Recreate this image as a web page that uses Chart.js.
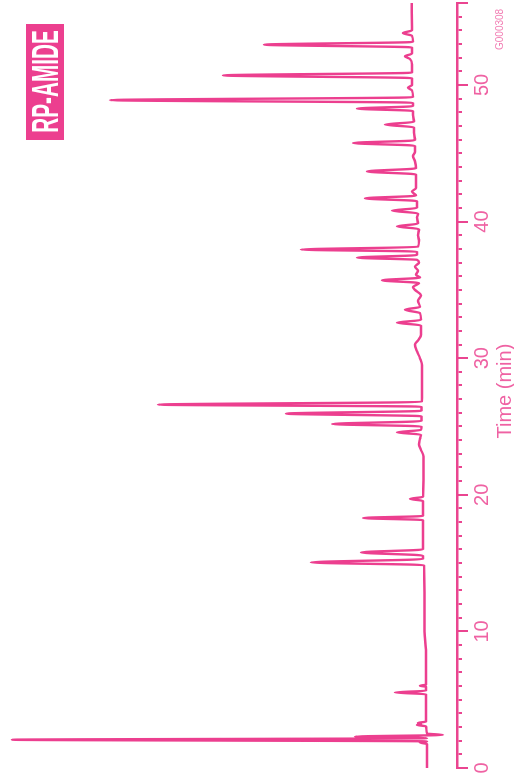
<!DOCTYPE html>
<html>
<head>
<meta charset="utf-8">
<script src="https://cdn.jsdelivr.net/npm/chart.js@4/dist/chart.umd.min.js"></script>
<style>
  html, body { margin: 0; padding: 0; background: #fff; overflow: hidden; }
  #stage { position: relative; width: 514px; height: 776px; overflow: hidden; }
  /* the chart is laid out landscape and turned a quarter-turn so time runs upward */
  #frame { position: absolute; left: -131px; top: 131px; width: 776px; height: 514px;
           transform: rotate(-90deg); transform-origin: 50% 50%; }
  #frame canvas { position: absolute; left: 0; top: 0; }
  .badge { position: absolute; left: 636px; top: 26px; width: 116px; height: 38px;
           background: #ec3f8f; color: #fff; display: flex; align-items: center;
           justify-content: center; overflow: hidden; }
  .badge span { display: inline-block; font: bold 37px "Liberation Sans", Arial, sans-serif;
                line-height: 37px; transform: scaleX(0.56); white-space: nowrap; }
  .code { position: absolute; left: 726px; top: 494px; font: 10px "Liberation Sans", Arial, sans-serif;
          color: #f27db3; white-space: nowrap; }
</style>
</head>
<body>
<div id="stage">
  <div id="frame">
    <canvas id="chrom" width="776" height="514"></canvas>
    <div class="badge"><span>RP-AMIDE</span></div>
    <div class="code">G000308</div>
  </div>
</div>
<script>
// Retention time (min) and detector response (mAU) of the trace
const timeMin = [
  0.0, 1.75, 1.87, 1.95, 2.07, 2.18, 2.3, 2.42, 2.52, 3.05, 3.15, 3.22, 3.3, 3.4,
  5.4, 5.53, 5.66, 5.95, 6.02, 6.1, 8.5, 10.0, 14.85,
  15.05, 15.3, 15.55, 15.78, 16.0, 18.15, 18.3, 18.45, 19.55, 19.7, 19.85,
  22.8, 23.3, 23.7, 24.1, 24.4, 24.57, 24.75, 25.0, 25.18, 25.4, 25.75, 25.94, 26.15,
  26.45, 26.6, 26.8, 27.5, 29.5, 30.0, 30.5, 31.0, 31.3, 31.7, 32.4,
  32.6, 32.8, 33.3, 33.55, 33.75, 34.2, 34.6, 35.0, 35.2, 35.5,
  35.7, 35.9, 36.1, 36.4, 36.7, 37.0, 37.2, 37.36, 37.55, 37.8, 37.95, 38.15,
  38.6, 39.0, 39.45, 39.65, 39.85, 40.3, 40.6, 40.8, 41.0, 41.5, 41.7, 41.9,
  42.2, 42.45, 43.45, 43.67, 43.9, 44.4, 44.8, 45.1, 45.55, 45.75, 45.95,
  46.5, 46.9, 47.1, 47.3, 47.8, 48.1, 48.27, 48.45, 48.7, 48.89, 49.1,
  49.6, 49.8, 50.0, 50.5, 50.7, 50.9, 51.5, 51.9, 52.1, 52.3, 52.75,
  52.95, 53.15, 53.6, 53.8, 54.0, 56.0
];
const signalMAU = [
  6.56, 6.56, 8.10, 6.56, 97.37, 6.56, 22.32, 3.06, 6.56, 6.78, 8.75, 7.88, 8.53, 6.78,
  6.78, 13.57, 6.78, 6.78, 8.10, 6.78, 6.78, 7.11, 7.22,
  31.95, 7.44, 7.44, 21.01, 7.44, 7.44, 20.57, 7.44, 7.44, 10.28, 7.44,
  7.33, 7.88, 8.32, 8.10, 7.88, 13.13, 7.88, 7.77, 27.35, 7.77, 7.77, 37.42, 7.77,
  7.77, 65.43, 7.72, 7.66, 7.66, 8.10, 8.75, 9.19, 8.53, 7.88, 7.88,
  13.13, 7.88, 8.10, 11.38, 8.10, 8.53, 7.88, 9.19, 9.63, 8.32,
  16.41, 8.10, 8.97, 8.53, 9.19, 8.32, 8.75, 21.88, 8.75, 8.75, 34.14, 8.53,
  8.32, 8.53, 8.32, 13.13, 8.53, 8.75, 8.53, 14.22, 8.75, 8.75, 20.13, 8.97,
  9.85, 8.97, 8.97, 19.69, 8.97, 9.19, 9.63, 9.19, 9.19, 22.76, 9.19,
  9.41, 9.41, 15.75, 9.41, 9.63, 9.63, 21.88, 9.63, 9.63, 75.93, 9.63,
  9.85, 10.72, 9.85, 9.85, 51.20, 9.85, 9.85, 10.28, 11.38, 9.85, 9.85,
  42.23, 9.63, 9.85, 11.82, 9.85, 9.91
];
// Time axis range and tick spacing
const timeRange = [0, 56];
const minorStep = 1;
const majorStep = 10;
const axisTitle = 'Time (min)\u00a0\u00a0';

const TRACE = '#ec3f8f';
const AXIS = '#ea4590';
const LABEL = '#ef62a3';

const points = timeMin.map((t, i) => ({ x: t, y: signalMAU[i] }));

new Chart(document.getElementById('chrom'), {
  type: 'line',
  data: {
    datasets: [{
      data: points,
      xAxisID: 'x',
      yAxisID: 'y',
      borderColor: TRACE,
      borderWidth: 2.4,
      pointRadius: 0,
      cubicInterpolationMode: 'monotone',
      fill: false
    }]
  },
  options: {
    responsive: false,
    animation: false,
    devicePixelRatio: 1,
    layout: { padding: { left: 8, right: 3, top: 0, bottom: 0 } },
    plugins: { legend: { display: false }, tooltip: { enabled: false } },
    scales: {
      x: {
        type: 'linear',
        position: 'bottom',
        min: timeRange[0],
        max: timeRange[1],
        border: { display: true, color: AXIS, width: 2.5 },
        grid: { drawOnChartArea: false, drawTicks: true, tickLength: 5, color: AXIS, lineWidth: 2 },
        ticks: {
          stepSize: minorStep,
          autoSkip: false,
          maxRotation: 0,
          padding: 8,
          color: LABEL,
          font: { family: 'Liberation Sans', size: 20 },
          callback: v => (v % majorStep === 0 ? String(v) : '')
        },
        title: {
          display: true,
          text: axisTitle,
          color: LABEL,
          font: { family: 'Liberation Sans', size: 20, lineHeight: 0.9 },
          padding: { top: 0, bottom: 0 }
        },
        afterFit: scale => {
          scale.height = 57;
          // keep the plot span fixed by the layout padding only
          scale.paddingLeft = 0;
          scale.paddingRight = 0;
        }
      },
      xMajor: {
        type: 'linear',
        axis: 'x',
        position: { y: 0 },
        min: timeRange[0],
        max: timeRange[1],
        border: { display: false },
        grid: { drawOnChartArea: false, drawTicks: true, tickLength: 11, color: AXIS, lineWidth: 2 },
        ticks: { stepSize: majorStep, display: false }
      },
      y: { min: 0, max: 100, display: false }
    }
  }
});
</script>
</body>
</html>
